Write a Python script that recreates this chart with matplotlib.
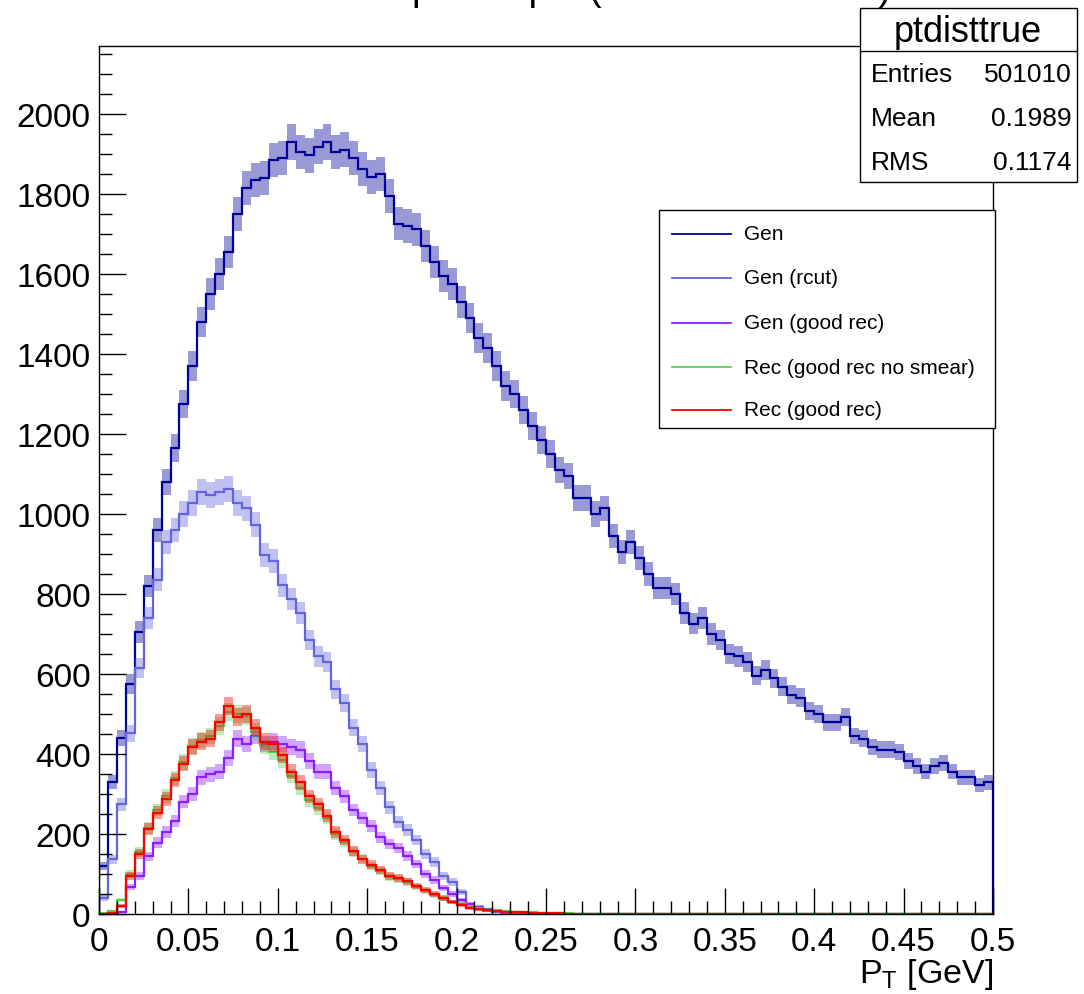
import numpy as np
import matplotlib
matplotlib.use("Agg")
import matplotlib.pyplot as plt
from matplotlib.patches import Rectangle
from matplotlib.lines import Line2D
from matplotlib.ticker import MultipleLocator, FuncFormatter

plt.rcParams['font.family'] = ['Liberation Sans', 'DejaVu Sans']
plt.rcParams['mathtext.fontset'] = 'custom'
plt.rcParams['mathtext.rm'] = 'Liberation Sans'
plt.rcParams['mathtext.it'] = 'Liberation Sans:italic'

# ---------------- data (bin contents per 0.001 GeV bin, sampled every 0.005 GeV) ----------------
pt_min, pt_max, n_bins = 0.0, 0.5, 100

gen = [120, 330, 440, 575, 705, 820, 960, 1080, 1165, 1275,
       1370, 1480, 1550, 1600, 1655, 1750, 1815, 1835, 1840, 1885,
       1890, 1930, 1905, 1897, 1918, 1930, 1905, 1911, 1890, 1863,
       1842, 1850, 1795, 1726, 1720, 1712, 1670, 1630, 1596, 1575,
       1530, 1490, 1440, 1415, 1370, 1320, 1300, 1260, 1220, 1185,
       1150, 1110, 1095, 1040, 1040, 1000, 1014, 945, 904, 930,
       890, 850, 815, 815, 800, 753, 726, 740, 700, 685,
       650, 644, 630, 596, 610, 589, 568, 548, 541, 507,
       500, 479, 479, 493, 445, 438, 418, 411, 411, 404,
       383, 370, 356, 370, 377, 356, 342, 342, 322, 329]

gen_rcut = [40, 137, 274, 452, 616, 740, 836, 930, 960, 1000,
            1027, 1055, 1048, 1055, 1062, 1027, 1014, 973, 897, 883,
            822, 788, 753, 685, 644, 630, 562, 527, 466, 425,
            360, 315, 267, 230, 210, 185, 150, 130, 95, 80,
            55, 15, 12, 8, 5, 3, 2, 1, 1, 0,
            0, 0, 0, 0, 0, 0, 0, 0, 0, 0,
            0, 0, 0, 0, 0, 0, 0, 0, 0, 0,
            0, 0, 0, 0, 0, 0, 0, 0, 0, 0,
            0, 0, 0, 0, 0, 0, 0, 0, 0, 0,
            0, 0, 0, 0, 0, 0, 0, 0, 0, 0]

gen_goodrec = [0, 0, 5, 68, 96, 144, 178, 205, 233, 281,
               301, 342, 349, 356, 390, 438, 425, 445, 425, 431,
               425, 418, 411, 383, 356, 356, 315, 294, 260, 240,
               219, 192, 175, 165, 145, 125, 100, 85, 65, 50,
               34, 25, 18, 12, 8, 6, 4, 3, 2, 1,
               0, 0, 0, 0, 0, 0, 0, 0, 0, 0,
               0, 0, 0, 0, 0, 0, 0, 0, 0, 0,
               0, 0, 0, 0, 0, 0, 0, 0, 0, 0,
               0, 0, 0, 0, 0, 0, 0, 0, 0, 0,
               0, 0, 0, 0, 0, 0, 0, 0, 0, 0]

rec_nosmear = [2, 8, 35, 100, 155, 215, 260, 295, 340, 380,
               420, 435, 445, 470, 505, 500, 495, 455, 420, 405,
               385, 345, 315, 285, 265, 240, 200, 180, 155, 138,
               120, 108, 92, 88, 80, 68, 58, 48, 38, 30,
               24, 18, 14, 11, 9, 7, 6, 5, 4, 3,
               3, 2, 2, 1, 1, 1, 0, 0, 0, 0,
               0, 0, 0, 0, 0, 0, 0, 0, 0, 0,
               0, 0, 0, 0, 0, 0, 0, 0, 0, 0,
               0, 0, 0, 0, 0, 0, 0, 0, 0, 0,
               0, 0, 0, 0, 0, 0, 0, 0, 0, 0]

rec_goodrec = [0, 2, 20, 96, 150, 212, 253, 287, 335, 376,
               418, 431, 438, 479, 520, 493, 500, 466, 431, 425,
               397, 356, 329, 294, 274, 246, 205, 185, 157, 137,
               123, 110, 95, 90, 82, 70, 60, 50, 40, 30,
               22, 16, 12, 10, 8, 6, 5, 4, 3, 3,
               2, 2, 1, 1, 1, 0, 0, 0, 0, 0,
               0, 0, 0, 0, 0, 0, 0, 0, 0, 0,
               0, 0, 0, 0, 0, 0, 0, 0, 0, 0,
               0, 0, 0, 0, 0, 0, 0, 0, 0, 0,
               0, 0, 0, 0, 0, 0, 0, 0, 0, 0]

series_labels = ["Gen", "Gen (rcut)", "Gen (good rec)",
                 "Rec (good rec no smear)", "Rec (good rec)"]
series_colors = ["#000099", "#6464dc", "#8c1eff", "#55d455", "#ff0000"]
series_values = [gen, gen_rcut, gen_goodrec, rec_nosmear, rec_goodrec]

stats_name = "ptdisttrue"
stats_rows = [("Entries", "501010"), ("Mean", "0.1989"), ("RMS", "0.1174")]
title_text = "pt of J/psi (all and smeared)"
xlabel_text = r"P$_{\mathrm{T}}$ [GeV]"

# ---------------- figure ----------------
W, H = 1084, 995
fig = plt.figure(figsize=(W / 100, H / 100), dpi=100)
ax = fig.add_axes([99 / W, 80 / H, (993 - 99) / W, (915 - 47) / H])

edges = np.linspace(pt_min, pt_max, n_bins + 1)
for vals, col in zip(series_values, series_colors):
    v = np.asarray(vals, dtype=float)
    err = np.sqrt(v)
    ax.stairs(v + err, edges, baseline=v - err, fill=True, color=col,
              alpha=0.4, linewidth=0)
    ax.stairs(v, edges, color=col, linewidth=1.6)

ax.set_xlim(pt_min, pt_max)
ax.set_ylim(0, 2170)

ax.xaxis.set_major_locator(MultipleLocator(0.05))
ax.xaxis.set_minor_locator(MultipleLocator(0.01))
ax.yaxis.set_major_locator(MultipleLocator(200))
ax.yaxis.set_minor_locator(MultipleLocator(50))
ax.xaxis.set_major_formatter(FuncFormatter(lambda v, p: "%g" % round(v, 3)))
ax.yaxis.set_major_formatter(FuncFormatter(lambda v, p: "%d" % round(v)))
ax.tick_params(axis='both', which='both', direction='in', top=False, right=False,
               width=1.0, colors='black')
ax.tick_params(axis='x', which='major', length=18.5, labelsize=24, pad=9)
ax.tick_params(axis='x', which='minor', length=9.4)
ax.tick_params(axis='y', which='major', length=19.4, labelsize=24, pad=6)
ax.tick_params(axis='y', which='minor', length=9.4)
for s in ax.spines.values():
    s.set_linewidth(1.0)
    s.set_color('black')

# x-axis title (right aligned)
fig.text(993 / W, 12 / H, xlabel_text, ha='right', va='baseline', fontsize=24.5)

# title, almost entirely above the canvas (only descenders visible, as in the reference)
fig.text(652 / W, 1.0, title_text, ha='center', va='baseline', fontsize=28)

# ---------------- stats box ----------------
def fx(px):
    return px / W

def fy(py):
    return 1 - py / H

fig.add_artist(Rectangle((fx(860), fy(183)), fx(1077) - fx(860), fy(9) - fy(183),
                         transform=fig.transFigure, facecolor='white',
                         edgecolor='black', linewidth=1.0, zorder=5))
fig.add_artist(Line2D([fx(860), fx(1077)], [fy(52), fy(52)], transform=fig.transFigure,
                      color='black', linewidth=1.0, zorder=6))
fig.text(fx(968), fy(32), stats_name, ha='center', va='center', fontsize=26, zorder=7)
for k, (name, val) in enumerate(stats_rows):
    yy = fy(75 + 44 * k)
    fig.text(fx(871), yy, name, ha='left', va='center', fontsize=19, zorder=7)
    fig.text(fx(1072), yy, val, ha='right', va='center', fontsize=19, zorder=7)

# ---------------- legend ----------------
fig.add_artist(Rectangle((fx(659), fy(429)), fx(995) - fx(659), fy(211) - fy(429),
                         transform=fig.transFigure, facecolor='white',
                         edgecolor='black', linewidth=1.0, zorder=5))
row_y = [235, 279, 324, 368, 411]
for lab, col, ry in zip(series_labels, series_colors, row_y):
    fig.add_artist(Line2D([fx(672), fx(731)], [fy(ry), fy(ry)], transform=fig.transFigure,
                          color=col, linewidth=1.3, zorder=6))
    fig.text(fx(744), fy(ry), lab, ha='left', va='center', fontsize=15, zorder=7)

fig.savefig("out.png", dpi=100)
